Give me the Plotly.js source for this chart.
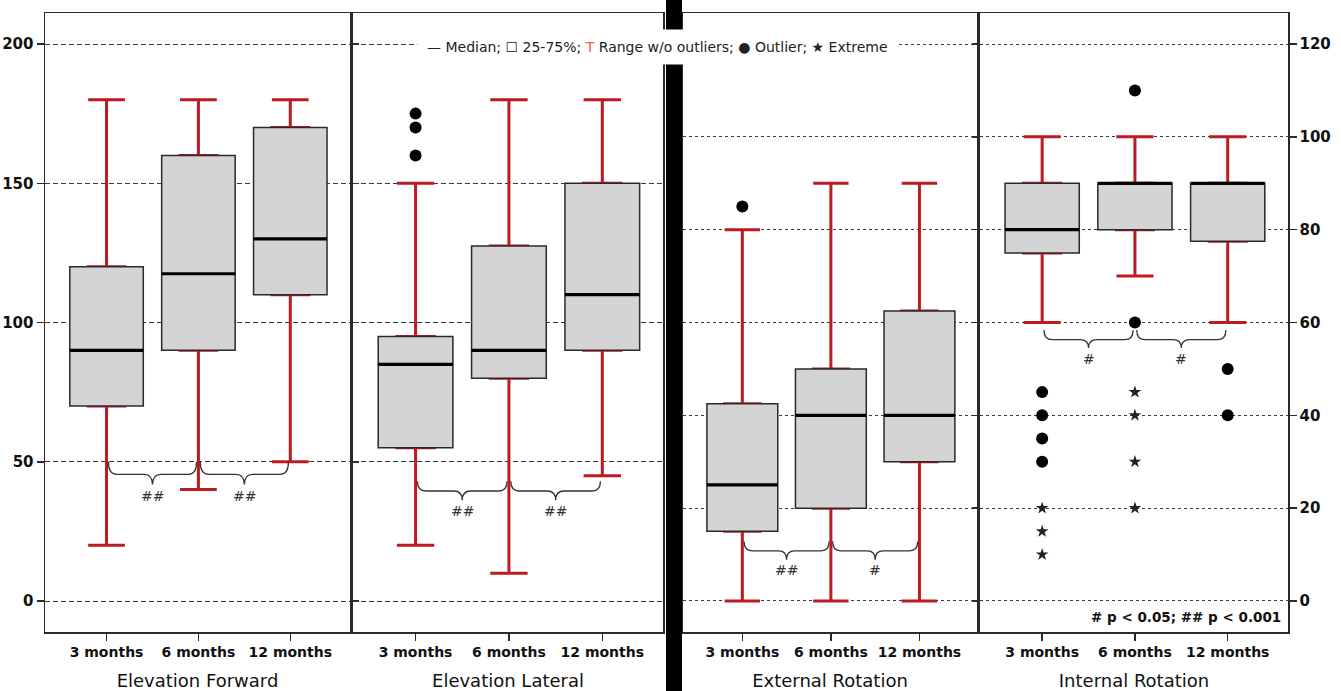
<!DOCTYPE html>
<html>
<head>
<meta charset="utf-8">
<script src="https://cdn.plot.ly/plotly-3.0.1.min.js"></script>
<style>html,body{margin:0;padding:0;background:#fff;}#chart{width:1341px;height:691px;}</style>
</head>
<body>
<div id="chart"></div>
<script>
// ---------- data ----------
const months = ['3 months', '6 months', '12 months'];
const panelTitles = ['Elevation Forward', 'Elevation Lateral', 'External Rotation', 'Internal Rotation'];
const leftTicks = [0, 50, 100, 150, 200];
const rightTicks = [0, 20, 40, 60, 80, 100, 120];

// Elevation Forward
const efLow = [20, 40, 50];
const efQ1 = [70, 90, 110];
const efMed = [90, 117.5, 130];
const efQ3 = [120, 160, 170];
const efHigh = [180, 180, 180];
const efOutMonth = [];
const efOut = [];
const efExtMonth = [];
const efExt = [];

// Elevation Lateral
const elLow = [20, 10, 45];
const elQ1 = [55, 80, 90];
const elMed = [85, 90, 110];
const elQ3 = [95, 127.5, 150];
const elHigh = [150, 180, 180];
const elOutMonth = [0, 0, 0];
const elOut = [175, 170, 160];
const elExtMonth = [];
const elExt = [];

// External Rotation
const erLow = [0, 0, 0];
const erQ1 = [15, 20, 30];
const erMed = [25, 40, 40];
const erQ3 = [42.5, 50, 62.5];
const erHigh = [80, 90, 90];
const erOutMonth = [0];
const erOut = [85];
const erExtMonth = [];
const erExt = [];

// Internal Rotation
const irLow = [60, 70, 60];
const irQ1 = [75, 80, 77.5];
const irMed = [80, 90, 90];
const irQ3 = [90, 90, 90];
const irHigh = [100, 100, 100];
const irOutMonth = [0, 0, 0, 0, 1, 1, 2, 2];
const irOut = [45, 40, 35, 30, 110, 60, 50, 40];
const irExtMonth = [0, 0, 0, 1, 1, 1, 1];
const irExt = [20, 15, 10, 45, 40, 30, 20];

// significance labels (3->6, 6->12)
const efSig = ['##', '##'];
const elSig = ['##', '##'];
const erSig = ['##', '#'];
const irSig = ['#', '#'];

const legendText = '\u2014 Median; \u2610 25-75%; <span style="color:#E8643A">T</span> Range w/o outliers; \u25CF Outlier; \u2605 Extreme';
const pText = '# p &lt; 0.05; ## p &lt; 0.001';

// ---------- styling / geometry ----------
const W = 1341, H = 691;
const RED = '#BD1A22';
const BOXFILL = '#D4D4D4';
const EDGE = '#2a2a2a';
const pos = months.map((m, i) => i);
const panels = [
  {xa: 'x',  ya: 'y',  low: efLow, q1: efQ1, med: efMed, q3: efQ3, high: efHigh, om: efOutMonth, ov: efOut, xm: efExtMonth, xv: efExt, sig: efSig,
   px: [45, 350], brace: {tip: 50, line: 45.5, point: 41.8, text: 37.8}},
  {xa: 'x2', ya: 'y',  low: elLow, q1: elQ1, med: elMed, q3: elQ3, high: elHigh, om: elOutMonth, ov: elOut, xm: elExtMonth, xv: elExt, sig: elSig,
   px: [353, 663], brace: {tip: 43, line: 39.5, point: 36.2, text: 32.3}},
  {xa: 'x3', ya: 'y2', low: erLow, q1: erQ1, med: erMed, q3: erQ3, high: erHigh, om: erOutMonth, ov: erOut, xm: erExtMonth, xv: erExt, sig: erSig,
   px: [683, 977], brace: {tip: 12.8, line: 10.8, point: 8.9, text: 6.6}},
  {xa: 'x4', ya: 'y2', low: irLow, q1: irQ1, med: irMed, q3: irQ3, high: irHigh, om: irOutMonth, ov: irOut, xm: irExtMonth, xv: irExt, sig: irSig,
   px: [980, 1288], brace: {tip: 58.4, line: 56.3, point: 54.5, text: 52.2}}
];

const traces = [];
panels.forEach(p => {
  // red whiskers with caps
  traces.push({type: 'box', x: pos, q1: p.q1, median: p.med, q3: p.q3, lowerfence: p.low, upperfence: p.high,
    xaxis: p.xa, yaxis: p.ya, width: 0.4, whiskerwidth: 1, boxpoints: false,
    line: {color: RED, width: 3}, fillcolor: 'rgba(0,0,0,0)', hoverinfo: 'skip'});
  // grey box
  traces.push({type: 'box', x: pos, q1: p.q1, median: p.med, q3: p.q3, lowerfence: p.q1, upperfence: p.q3,
    xaxis: p.xa, yaxis: p.ya, width: 0.8, whiskerwidth: 0, boxpoints: false,
    line: {color: EDGE, width: 1.5}, fillcolor: BOXFILL, hoverinfo: 'skip'});
  // thick median
  traces.push({type: 'box', x: pos, q1: p.med, median: p.med, q3: p.med, lowerfence: p.med, upperfence: p.med,
    xaxis: p.xa, yaxis: p.ya, width: 0.8, whiskerwidth: 0, boxpoints: false,
    line: {color: '#000', width: 3.2}, fillcolor: 'rgba(0,0,0,0)', hoverinfo: 'skip'});
  if (p.ov.length) traces.push({type: 'scatter', mode: 'markers', x: p.om, y: p.ov, xaxis: p.xa, yaxis: p.ya,
    marker: {symbol: 'circle', size: 12, color: '#000'}, hoverinfo: 'skip'});
  if (p.xv.length) traces.push({type: 'scatter', mode: 'markers', x: p.xm, y: p.xv, xaxis: p.xa, yaxis: p.ya,
    marker: {symbol: 'star', size: 9.5, color: '#222'}, hoverinfo: 'skip'});
});

const yDom = [1 - 632 / H, 1 - 13 / H];
const tickFont = {family: 'DejaVu Sans', size: 15, color: '#111', weight: 'bold'};
function xAxis(p, title, anchor) {
  return {domain: [p.px[0] / W, p.px[1] / W], anchor: anchor, range: [-0.67, 2.65],
    tickvals: pos, ticktext: months, ticks: 'outside', ticklen: 7, tickwidth: 1.5, tickcolor: EDGE,
    showline: true, mirror: true, linecolor: EDGE, linewidth: 1.5, showgrid: false, zeroline: false,
    tickfont: {family: 'DejaVu Sans', size: 14, color: '#111', weight: 'bold'},
    title: {text: title, font: {family: 'DejaVu Sans', size: 18, color: '#111'}, standoff: 15}};
}
const layout = {
  width: W, height: H, margin: {l: 0, r: 0, t: 0, b: 0},
  paper_bgcolor: '#fff', plot_bgcolor: '#fff', showlegend: false, boxmode: 'overlay',
  xaxis: xAxis(panels[0], panelTitles[0], 'y'),
  xaxis2: xAxis(panels[1], panelTitles[1], 'y'),
  xaxis3: xAxis(panels[2], panelTitles[2], 'y2'),
  xaxis4: xAxis(panels[3], panelTitles[3], 'y2'),
  yaxis: {domain: yDom, anchor: 'x', side: 'left', range: [-11.13, 211.13], tickvals: leftTicks,
    ticks: 'outside', ticklen: 7, tickwidth: 1.5, tickcolor: EDGE, showline: true, mirror: 'all',
    linecolor: EDGE, linewidth: 1.5, showgrid: true, gridcolor: '#3a3a3a', gridwidth: 1, griddash: '5px,3px',
    zeroline: false, tickfont: tickFont},
  yaxis2: {domain: yDom, anchor: 'x4', side: 'right', range: [-6.68, 126.68], tickvals: rightTicks,
    ticks: 'outside', ticklen: 7, tickwidth: 1.5, tickcolor: EDGE, showline: true, mirror: 'all',
    linecolor: EDGE, linewidth: 1.5, showgrid: true, gridcolor: '#3a3a3a', gridwidth: 1, griddash: '3px,3px',
    zeroline: false, tickfont: tickFont},
  shapes: [], annotations: []
};

function bracePath(xa, xb, b, dx) {
  const xc = (xa + xb) / 2;
  return `M${xa},${b.tip} Q${xa},${b.line} ${xa + dx},${b.line} L${xc - dx},${b.line} ` +
         `Q${xc},${b.line} ${xc},${b.point} Q${xc},${b.line} ${xc + dx},${b.line} ` +
         `L${xb - dx},${b.line} Q${xb},${b.line} ${xb},${b.tip}`;
}
panels.forEach(p => {
  for (let k = 0; k < 2; k++) {
    layout.shapes.push({type: 'path', xref: p.xa, yref: p.ya, path: bracePath(pos[k] + 0.02, pos[k + 1] - 0.02, p.brace, 0.09),
      line: {color: '#333', width: 1.3}, layer: 'above'});
    layout.annotations.push({xref: p.xa, yref: p.ya, x: (pos[k] + pos[k + 1]) / 2, y: p.brace.text, text: p.sig[k],
      showarrow: false, xanchor: 'center', yanchor: 'middle', font: {family: 'DejaVu Sans', size: 14, color: '#333'}});
  }
});
// separator bar
layout.shapes.push({type: 'rect', xref: 'paper', yref: 'paper', x0: 666 / W, x1: 682 / W, y0: 0, y1: 1,
  fillcolor: '#000', line: {width: 0}, layer: 'above'});
// legend text
layout.annotations.push({xref: 'paper', yref: 'paper', x: 657 / W, y: 1 - 47 / H, xanchor: 'center', yanchor: 'middle',
  text: legendText, showarrow: false, bgcolor: '#fff', borderpad: 9,
  font: {family: 'DejaVu Sans', size: 14, color: '#222'}});
// p-value note
layout.annotations.push({xref: 'paper', yref: 'paper', x: 1283 / W, y: 1 - 617 / H, xanchor: 'right', yanchor: 'middle',
  text: pText, showarrow: false, font: {family: 'DejaVu Sans', size: 13.5, color: '#111', weight: 'bold'}});

Plotly.newPlot('chart', traces, layout, {staticPlot: true, displayModeBar: false});
</script>
</body>
</html>
